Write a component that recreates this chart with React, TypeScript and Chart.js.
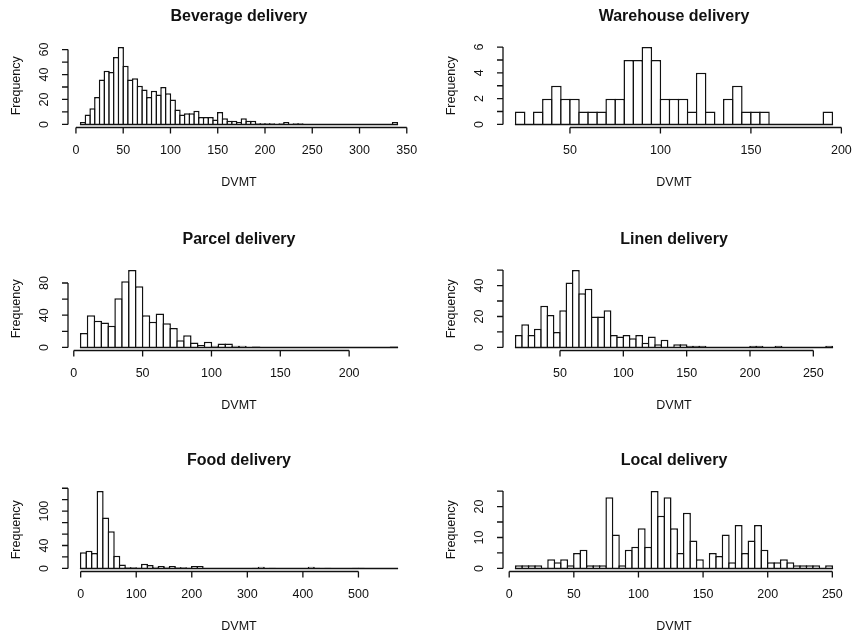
import React, { useEffect, useRef } from "react";
import { Chart, registerables } from "chart.js";

Chart.register(...registerables);

// ---------- data (histogram counts, bins of equal width) ----------
const beverageStart = 5;
const beverageWidth = 5;
const beverageCounts = [
  2, 8, 13, 22, 36, 43, 42, 54, 62, 47,
  36, 37, 31, 28, 22, 27, 24, 30, 25, 20,
  12, 8, 9, 9, 11, 6, 6, 6, 4, 10,
  5, 3, 3, 2, 5, 3, 3, 1, 1, 1,
  1, 0, 1, 2, 0, 1, 1,
  0, 0, 0, 0, 0, 0, 0, 0, 0, 0, 0, 0, 0, 0, 0, 0, 0, 0, 0,
  2,
];
const beverageXTicks = [0, 50, 100, 150, 200, 250, 300, 350];
const beverageYTicks = [0, 10, 20, 30, 40, 50, 60];
const beverageYLabels = ["0", "", "20", "", "40", "", "60"];

const warehouseStart = 20;
const warehouseWidth = 5;
const warehouseCounts = [
  1, 0, 1, 2, 3, 2, 2, 1, 1, 1,
  2, 2, 5, 5, 6, 5, 2, 2, 2, 1,
  4, 1, 0, 2, 3, 1, 1, 1,
  0, 0, 0, 0, 0, 0,
  1,
];
const warehouseXTicks = [50, 100, 150, 200];
const warehouseYTicks = [0, 1, 2, 3, 4, 5, 6];
const warehouseYLabels = ["0", "", "2", "", "4", "", "6"];

const parcelStart = 5;
const parcelWidth = 5;
const parcelCounts = [
  18, 40, 33, 31, 27, 61, 82, 96, 76, 40,
  32, 42, 30, 24, 9, 15, 6, 3, 7, 2,
  5, 5, 2, 2, 0, 1,
  0, 0, 0, 0, 0, 0, 0, 0, 0, 0, 0, 0, 0, 0, 0, 0, 0, 0, 0,
  1,
];
const parcelXTicks = [0, 50, 100, 150, 200];
const parcelYTicks = [0, 20, 40, 60, 80];
const parcelYLabels = ["0", "", "40", "", "80"];

const linenStart = 15;
const linenWidth = 5;
const linenCounts = [
  8, 15, 8, 12, 27, 21, 10, 24, 42, 50,
  35, 38, 20, 20, 24, 8, 7, 8, 6, 8,
  3, 7, 2, 5, 0, 2, 2, 1, 1, 1,
  0, 0, 0, 0, 0, 0, 0,
  1, 1, 0, 0, 1,
  0, 0, 0, 0, 0, 0, 0,
  1,
];
const linenXTicks = [50, 100, 150, 200, 250];
const linenYTicks = [0, 10, 20, 30, 40, 50];
const linenYLabels = ["0", "", "20", "", "40", ""];

const foodStart = 0;
const foodWidth = 10;
const foodCounts = [
  28, 31, 27, 135, 89, 65, 22, 7, 2, 2,
  1, 8, 6, 3, 4, 3, 4, 2, 2, 1,
  4, 4,
  0, 0, 0, 0, 0, 0, 0, 0, 0,
  1, 3, 0, 1,
  0, 0, 0, 0, 0, 0,
  3, 1, 0, 1,
  0, 0, 0, 0,
  1, 1,
  0, 0, 0, 0, 0, 0,
];
const foodXTicks = [0, 100, 200, 300, 400, 500];
const foodYTicks = [0, 20, 40, 60, 80, 100, 120, 140];
const foodYLabels = ["0", "", "40", "", "", "100", "", ""];

const localStart = 5;
const localWidth = 5;
const localCounts = [
  1, 1, 1, 1, 0, 3, 2, 3, 1, 5,
  6, 1, 1, 1, 23, 11, 1, 6, 7, 13,
  7, 25, 17, 23, 13, 5, 18, 9, 3, 0,
  5, 4, 11, 2, 14, 5, 9, 14, 6, 2,
  2, 3, 2, 1, 1, 1, 1, 0, 1,
];
const localXTicks = [0, 50, 100, 150, 200, 250];
const localYTicks = [0, 5, 10, 15, 20, 25];
const localYLabels = ["0", "", "10", "", "20", ""];

const titles = [
  "Beverage delivery",
  "Warehouse delivery",
  "Parcel delivery",
  "Linen delivery",
  "Food delivery",
  "Local delivery",
];
const xAxisTitle = "DVMT";
const yAxisTitle = "Frequency";

type Panel = {
  title: string;
  start: number;
  width: number;
  counts: number[];
  xTicks: number[];
  yTicks: number[];
  yLabels: string[];
  col: number;
  row: number;
};

const panels: Panel[] = [
  { title: titles[0], start: beverageStart, width: beverageWidth, counts: beverageCounts, xTicks: beverageXTicks, yTicks: beverageYTicks, yLabels: beverageYLabels, col: 0, row: 0 },
  { title: titles[1], start: warehouseStart, width: warehouseWidth, counts: warehouseCounts, xTicks: warehouseXTicks, yTicks: warehouseYTicks, yLabels: warehouseYLabels, col: 1, row: 0 },
  { title: titles[2], start: parcelStart, width: parcelWidth, counts: parcelCounts, xTicks: parcelXTicks, yTicks: parcelYTicks, yLabels: parcelYLabels, col: 0, row: 1 },
  { title: titles[3], start: linenStart, width: linenWidth, counts: linenCounts, xTicks: linenXTicks, yTicks: linenYTicks, yLabels: linenYLabels, col: 1, row: 1 },
  { title: titles[4], start: foodStart, width: foodWidth, counts: foodCounts, xTicks: foodXTicks, yTicks: foodYTicks, yLabels: foodYLabels, col: 0, row: 2 },
  { title: titles[5], start: localStart, width: localWidth, counts: localCounts, xTicks: localXTicks, yTicks: localYTicks, yLabels: localYLabels, col: 1, row: 2 },
];

// ---------- layout ----------
const CANVAS_W = 427;
const CANVAS_H = 222;
const PAD = { left: 68, right: 17, top: 44, bottom: 94.5 };
const COL_X = [0, 435];
const ROW_Y = [0, 223, 444];
const FONT = '"Liberation Sans", Arial, Helvetica, sans-serif';
const INK = "#111";
const BORDER_W = 1.5;

const rStylePlugin = {
  id: "rstyle",
  afterDatasetsDraw(chart: any, _args: any, opts: any) {
    const p: Panel = opts.panel;
    const { ctx, chartArea: a } = chart;
    const x = chart.scales.x;
    const y = chart.scales.y;
    const end = p.start + p.width * p.counts.length;
    ctx.save();
    ctx.strokeStyle = INK;
    ctx.fillStyle = INK;
    ctx.lineWidth = BORDER_W;
    // baseline of histogram (bottom edges of all bins)
    const y0 = y.getPixelForValue(0);
    ctx.beginPath();
    ctx.moveTo(x.getPixelForValue(p.start) - BORDER_W / 2, y0);
    ctx.lineTo(x.getPixelForValue(end) + BORDER_W / 2, y0);
    ctx.stroke();

    ctx.lineWidth = 1.3;
    // x axis
    const xb = a.bottom;
    const tx = p.xTicks.map((v) => x.getPixelForValue(v));
    ctx.beginPath();
    ctx.moveTo(tx[0], xb);
    ctx.lineTo(tx[tx.length - 1], xb);
    tx.forEach((t) => {
      ctx.moveTo(t, xb);
      ctx.lineTo(t, xb + 6);
    });
    ctx.stroke();
    ctx.font = `12.5px ${FONT}`;
    ctx.textAlign = "center";
    ctx.textBaseline = "middle";
    p.xTicks.forEach((v, i) => ctx.fillText(String(v), tx[i], xb + 23.5));

    // y axis
    const yl = a.left;
    const ty = p.yTicks.map((v) => y.getPixelForValue(v));
    ctx.beginPath();
    ctx.moveTo(yl, ty[0]);
    ctx.lineTo(yl, ty[ty.length - 1]);
    ty.forEach((t) => {
      ctx.moveTo(yl, t);
      ctx.lineTo(yl - 6, t);
    });
    ctx.stroke();
    p.yLabels.forEach((lab, i) => {
      if (!lab) return;
      ctx.save();
      ctx.translate(yl - 23, ty[i]);
      ctx.rotate(-Math.PI / 2);
      ctx.fillText(lab, 0, 0);
      ctx.restore();
    });

    // axis titles
    const cx = (a.left + a.right) / 2;
    const cy = (a.top + a.bottom) / 2;
    ctx.fillText(xAxisTitle, cx, xb + 55);
    ctx.save();
    ctx.translate(yl - 51, cy);
    ctx.rotate(-Math.PI / 2);
    ctx.fillText(yAxisTitle, 0, 0);
    ctx.restore();

    // main title
    ctx.font = `bold 16px ${FONT}`;
    ctx.fillText(p.title, cx, a.top - 27);
    ctx.restore();
  },
};

function HistPanel({ panel }: { panel: Panel }) {
  const ref = useRef<HTMLCanvasElement | null>(null);
  useEffect(() => {
    const canvas = ref.current;
    if (!canvas) return;
    const p = panel;
    const end = p.start + p.width * p.counts.length;
    const span = end - p.start;
    const xMin = p.start - 0.04 * span;
    const xMax = end + 0.04 * span;
    const yTop = Math.max(...p.counts);
    const yMin = -0.04 * yTop;
    const yMax = 1.04 * yTop;
    const plotW = CANVAS_W - PAD.left - PAD.right;
    const binPx = (p.width * plotW) / (xMax - xMin);
    const data = p.counts.map((c, i) => ({ x: p.start + (i + 0.5) * p.width, y: c }));
    const chart = new Chart(canvas, {
      type: "bar",
      data: {
        datasets: [
          {
            data,
            backgroundColor: "#ffffff",
            borderColor: INK,
            borderWidth: BORDER_W,
            borderSkipped: "start",
            barPercentage: (binPx + BORDER_W) / binPx,
            categoryPercentage: 1,
          } as any,
        ],
      },
      options: {
        responsive: false,
        animation: false,
        devicePixelRatio: 1,
        layout: { padding: PAD },
        scales: {
          x: { type: "linear", min: xMin, max: xMax, display: false, offset: false },
          y: { type: "linear", min: yMin, max: yMax, display: false },
        },
        plugins: {
          legend: { display: false },
          tooltip: { enabled: false },
          title: { display: false },
          rstyle: { panel: p },
        } as any,
      },
      plugins: [rStylePlugin],
    });
    return () => chart.destroy();
  }, [panel]);
  return (
    <canvas
      ref={ref}
      width={CANVAS_W}
      height={CANVAS_H}
      style={{
        position: "absolute",
        left: COL_X[panel.col],
        top: ROW_Y[panel.row],
        width: CANVAS_W,
        height: CANVAS_H,
      }}
    />
  );
}

export default function App() {
  return (
    <div
      style={{
        position: "absolute",
        left: 0,
        top: 0,
        width: 854,
        height: 634,
        overflow: "hidden",
        background: "#ffffff",
      }}
    >
      {panels.map((p) => (
        <HistPanel key={p.title} panel={p} />
      ))}
    </div>
  );
}
